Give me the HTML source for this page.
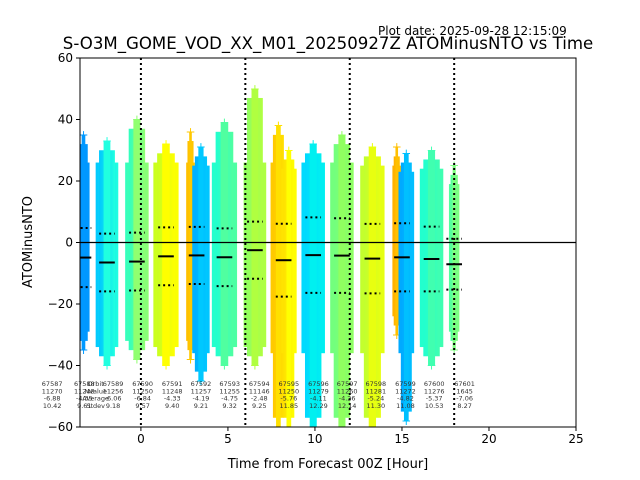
<!DOCTYPE html>
<html><head><meta charset="utf-8"><style>
body{margin:0;background:#fff;}
svg{display:block;font-family:"DejaVu Sans","Liberation Sans",sans-serif;}
</style></head><body>
<svg id="chart" width="640" height="480" viewBox="0 0 640 480" xmlns="http://www.w3.org/2000/svg">
<text x="378" y="35" font-size="12">Plot date: 2025-09-28 12:15:09</text>
<text x="328" y="49" font-size="16.6" text-anchor="middle">S-O3M_GOME_VOD_XX_M01_20250927Z ATOMinusNTO vs Time</text>
<g id="plot"></g>
<text x="328" y="468" font-size="13" text-anchor="middle">Time from Forecast 00Z [Hour]</text>
<text transform="translate(32,242) rotate(-90)" font-size="13" text-anchor="middle">ATOMinusNTO</text>
</svg>
<script>
const bandX   = [-3.3,-1.95,-0.23,1.44,2.85,3.45,4.8,6.55,7.9,8.5,9.9,11.55,13.3,14.7,15.25,16.7,18.0];
const bandW   = [0.7,1.3,1.35,1.45,0.5,1.0,1.45,1.3,0.9,0.9,1.35,1.35,1.4,0.5,0.9,1.35,0.6];
const bandTop = [35,33,40,32,36,31,39,50,38,30,32,35,31,31,29,30,25];
const bandBot = [-35,-40,-38,-40,-38,-45,-40,-40,-60,-60,-60,-60,-60,-30,-58,-40,-35];
const bandC1  = ["#0090ff","#00c8ff","#30ffc0","#c8ff20","#ffc000","#00b0ff","#20ffd0","#90ff60","#ffc800","#ffe000","#00d8ff","#70ff80","#c0ff30","#ffb000","#00a8ff","#20ffd0","#50ffa0"];
const bandC2  = ["#0098ff","#20ffe0","#90ff70","#ffff00","#ffc800","#00c8ff","#50ffa0","#b0ff40","#ffe000","#ffff00","#00f0f0","#90ff60","#e8ff10","#ffc000","#00c0ff","#40ffb0","#80ff80"];
const statX   = [-3.3,-1.95,-0.23,1.44,3.2,4.8,6.55,8.2,9.9,11.55,13.3,15.0,16.7,18.0];
const means   = [-4.9,-6.5,-6.2,-4.5,-4.2,-4.8,-2.5,-5.76,-4.11,-4.26,-5.24,-4.82,-5.37,-7.06];
const stds    = [9.6,9.4,9.4,9.4,9.3,9.4,9.3,11.85,12.29,12.14,11.30,11.08,10.53,8.27];
const orbits  = ["67587","67588","67589","67590","67591","67592","67593","67594","67595","67596","67597","67598","67599","67600","67601"];
const nvals   = ["11270","11248","11256","11250","11248","11257","11255","11146","11250","11279","11260","11281","11272","11276","1645"];
const avgs    = ["-6.88","-4.35","-6.06","-6.84","-4.33","-4.19","-4.75","-2.48","-5.76","-4.11","-4.26","-5.24","-4.82","-5.37","-7.06"];
const sdevs   = ["10.42","9.61","9.18","9.57","9.40","9.21","9.32","9.25","11.85","12.29","12.14","11.30","11.08","10.53","8.27"];
const labelX  = [-5.1,-3.25,-1.6,0.1,1.8,3.45,5.1,6.8,8.5,10.2,11.85,13.5,15.2,16.85,18.6];
const xTicks  = [0,5,10,15,20,25];
const yTicks  = [-60,-40,-20,0,20,40,60];
const vLines  = [0,6,12,18];

const L=80,R=576,T=58,B=427,xmin=-3.5,xmax=25,ymin=-60,ymax=60;
const sx=v=>L+(v-xmin)/(xmax-xmin)*(R-L);
const sy=v=>B-(v-ymin)/(ymax-ymin)*(B-T);
const NS="http://www.w3.org/2000/svg";
const svg=document.getElementById('chart');
const plot=document.getElementById('plot');
function mk(tag,attrs,parent){const e=document.createElementNS(NS,tag);for(const k in attrs)e.setAttribute(k,attrs[k]);(parent||plot).appendChild(e);return e;}
const defs=mk('defs',{},svg);
const clip=mk('clipPath',{id:'clipP'},defs);
mk('rect',{x:L,y:T,width:R-L,height:B-T},clip);
const g=mk('g',{'clip-path':'url(#clipP)'});



for(let i=0;i<bandX.length;i++){
  const gr=mk('linearGradient',{id:'gr'+i,x1:0,x2:1,y1:0,y2:0},defs);
  mk('stop',{offset:0,'stop-color':bandC1[i]},gr);
  mk('stop',{offset:1,'stop-color':bandC2[i]},gr);
  const x0=sx(bandX[i]-bandW[i]/2), w=sx(bandX[i]+bandW[i]/2)-x0;
  const yt=sy(Math.min(bandTop[i]-6,26)), yb=sy(Math.max(bandBot[i]+6,-36));
  const r=mk('rect',{x:x0,y:yt,width:w,height:yb-yt,fill:'url(#gr'+i+')'},g);
  
  
  const yt2=sy(bandTop[i]-3), yb2=sy(bandBot[i]+3);
  const r3=mk('rect',{x:x0+w*0.15,y:yt2,width:w*0.7,height:yb2-yt2,fill:'url(#gr'+i+')'},g);
  
  
  const r2=mk('rect',{x:x0+w*0.35,y:sy(bandTop[i]),width:w*0.3,height:sy(bandBot[i])-sy(bandTop[i]),fill:bandC2[i]},g);
  
  
  [bandTop[i],bandBot[i]].forEach(v=>{
    const p=mk('text',{x:sx(bandX[i]),y:sy(v)+4,'font-size':12,'text-anchor':'middle',fill:bandC2[i]},g);
    p.textContent='+';
    
    
  });
}
const z=mk('line',{x1:L,x2:R,y1:sy(0),y2:sy(0),stroke:'#000','stroke-width':1.2});


vLines.forEach(v=>{
  const l=mk('line',{x1:sx(v),x2:sx(v),y1:T,y2:B,stroke:'#000','stroke-width':2,'stroke-dasharray':'2 3'});
  
  
});
for(let i=0;i<statX.length;i++){
  const x0=sx(statX[i]-0.45),x1=sx(statX[i]+0.45);
  const m=mk('line',{x1:x0,x2:x1,y1:sy(means[i]),y2:sy(means[i]),stroke:'#000','stroke-width':2},g);
  
  
  [means[i]+stds[i],means[i]-stds[i]].forEach(v=>{
    const d=mk('line',{x1:x0,x2:x1,y1:sy(v),y2:sy(v),stroke:'#000','stroke-width':2,'stroke-dasharray':'2 3'},g);
    
    
  });
}
const lg=mk('text',{x:sx(-2.6),y:386,'font-size':6.5,'text-anchor':'middle',fill:'#333'});


['Orbit','Nvalue','Average','Stdev'].forEach((s,k)=>{const t=mk('tspan',{x:sx(-2.6),dy:k?7.3:0},lg);t.textContent=s;});
for(let i=0;i<orbits.length;i++){
  const t=mk('text',{x:sx(labelX[i]),y:386,'font-size':6.5,'text-anchor':'middle',fill:'#333'});
  
  
  [orbits[i],nvals[i],avgs[i],sdevs[i]].forEach((s,k)=>{const ts=mk('tspan',{x:sx(labelX[i]),dy:k?7.3:0},t);ts.textContent=s;});
}
const f=mk('rect',{x:L,y:T,width:R-L,height:B-T,fill:'none',stroke:'#000','stroke-width':1});


xTicks.forEach(v=>{
  const tk=mk('line',{x1:sx(v),x2:sx(v),y1:B,y2:B+4,stroke:'#000'});
  
  
  const t=mk('text',{x:sx(v),y:B+16,'font-size':12,'text-anchor':'middle'});
  t.textContent=v;
  
  
});
yTicks.forEach(v=>{
  const tk=mk('line',{x1:L-4,x2:L,y1:sy(v),y2:sy(v),stroke:'#000'});
  
  
  const t=mk('text',{x:L-7,y:sy(v)+4,'font-size':12,'text-anchor':'end'});
  t.textContent=v<0?'\u2212'+Math.abs(v):v;
  
  
});
</script>
</body></html>
